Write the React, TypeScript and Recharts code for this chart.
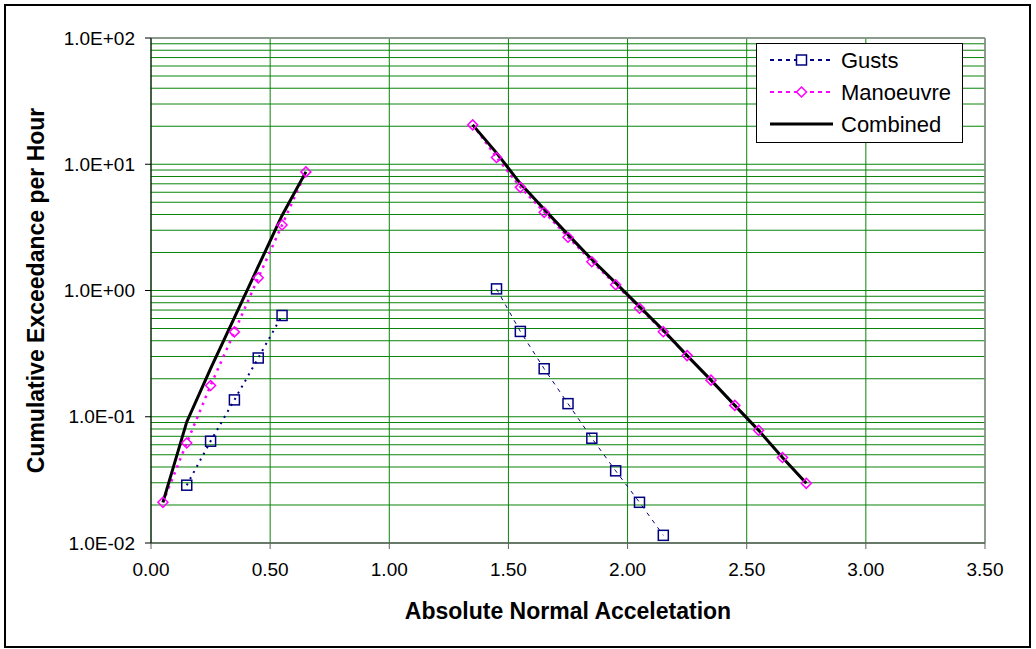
import React from 'react';
import { LineChart, Line, XAxis, YAxis, CartesianGrid, ReferenceLine } from 'recharts';

const FONT = "'Liberation Sans', Arial, Helvetica, sans-serif";

// X tick values and Y tick values
const xTicks = [0, 0.5, 1, 1.5, 2, 2.5, 3, 3.5];
const yTicks = [0.01, 0.1, 1, 10, 100];
const yGridValues = [
  0.01, 0.02, 0.03, 0.04, 0.05, 0.06, 0.07, 0.08, 0.09,
  0.1, 0.2, 0.3, 0.4, 0.5, 0.6, 0.7, 0.8, 0.9,
  1, 2, 3, 4, 5, 6, 7, 8, 9,
  10, 20, 30, 40, 50, 60, 70, 80, 90, 100,
];

// Gusts
const gustsLeftX = [0.15, 0.25, 0.35, 0.45, 0.55];
const gustsLeftY = [0.0287, 0.064, 0.136, 0.292, 0.634];
const gustsRightX = [1.45, 1.55, 1.65, 1.75, 1.85, 1.95, 2.05, 2.15];
const gustsRightY = [1.03, 0.474, 0.24, 0.127, 0.0676, 0.0373, 0.021, 0.0115];

// Manoeuvre
const manLeftX = [0.05, 0.15, 0.25, 0.35, 0.45, 0.55, 0.65];
const manLeftY = [0.021, 0.062, 0.177, 0.47, 1.26, 3.3, 8.7];
const manRightX = [1.35, 1.45, 1.55, 1.65, 1.75, 1.85, 1.95, 2.05, 2.15, 2.25, 2.35, 2.45, 2.55, 2.65, 2.75];
const manRightY = [20.5, 11.3, 6.56, 4.16, 2.64, 1.69, 1.11, 0.724, 0.472, 0.305, 0.195, 0.123, 0.078, 0.0476, 0.0297];

// Combined
const combLeftX = [0.05, 0.15, 0.25, 0.35, 0.45, 0.55, 0.65];
const combLeftY = [0.021, 0.091, 0.241, 0.61, 1.55, 3.93, 8.7];
const combRightX = [1.35, 1.45, 1.55, 1.65, 1.75, 1.85, 1.95, 2.05, 2.15, 2.25, 2.35, 2.45, 2.55, 2.65, 2.75];
const combRightY = [20.5, 12.3, 7.03, 4.4, 2.77, 1.76, 1.15, 0.745, 0.484, 0.305, 0.195, 0.123, 0.078, 0.0476, 0.0297];

const zip = (xs: number[], ys: number[]) => xs.map((x, i) => ({ x, y: ys[i] }));

const GUST = '#000080';
const MAN = '#FF00FF';

const fmtExp = (v: number) => {
  const e = Math.round(Math.log10(v));
  return `1.0E${e < 0 ? '-' : '+'}${String(Math.abs(e)).padStart(2, '0')}`;
};

const SquareDot = (props: any) => {
  const { cx, cy, index } = props;
  if (cx == null || cy == null) return <g key={`s${index}`} />;
  return <rect key={`s${index}-${cx}`} x={cx - 5} y={cy - 5} width={10} height={10} fill="none" stroke={GUST} strokeWidth={1.5} />;
};

const DiamondDot = (props: any) => {
  const { cx, cy, index } = props;
  if (cx == null || cy == null) return <g key={`d${index}`} />;
  return (
    <polygon
      key={`d${index}-${cx}`}
      points={`${cx},${cy - 5} ${cx + 5},${cy} ${cx},${cy + 5} ${cx - 5},${cy}`}
      fill="none"
      stroke={MAN}
      strokeWidth={1.5}
    />
  );
};

const LegendBox = () => (
  <div
    style={{
      position: 'absolute',
      left: 756,
      top: 43,
      width: 207,
      height: 100,
      border: '1px solid #000',
      boxSizing: 'border-box',
      background: '#fff',
    }}
  >
    <svg width={207} height={100} style={{ position: 'absolute', left: -1, top: -1 }}>
      <line x1={14} x2={77} y1={17} y2={17} stroke={GUST} strokeWidth={2} strokeDasharray="4 4" />
      <rect x={40.5} y={12} width={10} height={10} fill="#fff" stroke={GUST} strokeWidth={1.5} />
      <line x1={14} x2={77} y1={49} y2={49} stroke={MAN} strokeWidth={2} strokeDasharray="4 4" />
      <polygon points="45.5,44 50.5,49 45.5,54 40.5,49" fill="#fff" stroke={MAN} strokeWidth={1.5} />
      <line x1={14} x2={77} y1={81} y2={81} stroke="#000" strokeWidth={3} />
      <text x={85} y={17} dy="0.355em" fontSize={22} fontFamily={FONT} fill="#000">Gusts</text>
      <text x={85} y={49} dy="0.355em" fontSize={22} fontFamily={FONT} fill="#000">Manoeuvre</text>
      <text x={85} y={81} dy="0.355em" fontSize={22} fontFamily={FONT} fill="#000">Combined</text>
    </svg>
  </div>
);

export default function App() {
  return (
    <div style={{ position: 'absolute', left: 0, top: 0, width: 1036, height: 649, background: '#fff', fontFamily: FONT }}>
      <LineChart
        width={1036}
        height={649}
        margin={{ top: 38, right: 51, bottom: 0, left: 0 }}
        style={{ position: 'absolute', left: 0, top: 0 }}
      >
        <CartesianGrid
          stroke="#0a840a"
          horizontalValues={yGridValues}
          verticalValues={xTicks}
        />
        <XAxis
          type="number"
          dataKey="x"
          domain={[0, 3.5]}
          ticks={xTicks}
          interval={0}
          allowDataOverflow
          height={106}
          tickFormatter={(v: number) => v.toFixed(2)}
          tick={{ fill: '#000', fontSize: 19, fontFamily: FONT }}
          tickSize={6}
          tickMargin={14}
          axisLine={{ stroke: '#606060', strokeWidth: 1.5 }}
          tickLine={{ stroke: '#606060' }}
          label={{
            content: (p: any) => {
              const vb = p.viewBox || { x: 151, width: 834 };
              return (
                <text x={vb.x + vb.width / 2} y={619} textAnchor="middle" fontSize={23} fontWeight="bold" fontFamily={FONT} fill="#000">
                  Absolute Normal Acceletation
                </text>
              );
            },
          }}
        />
        <YAxis
          type="number"
          scale="log"
          domain={[0.01, 100]}
          ticks={yTicks}
          interval={0}
          allowDataOverflow
          width={151}
          tickFormatter={fmtExp}
          tick={{ fill: '#000', fontSize: 19, fontFamily: FONT }}
          tickSize={6}
          tickMargin={10}
          axisLine={{ stroke: '#000' }}
          tickLine={{ stroke: '#000' }}
          label={{
            content: (p: any) => {
              const vb = p.viewBox || { y: 38, height: 505 };
              const cy = vb.y + vb.height / 2;
              return (
                <text x={43.5} y={cy} transform={`rotate(-90 43.5 ${cy})`} textAnchor="middle" fontSize={23} fontWeight="bold" fontFamily={FONT} fill="#000">
                  Cumulative Exceedance per Hour
                </text>
              );
            },
          }}
        />
        <ReferenceLine y={100} stroke="#909090" strokeWidth={1.5} />
        <ReferenceLine x={3.5} stroke="#909090" strokeWidth={1.5} />

        <Line data={zip(gustsLeftX, gustsLeftY)} dataKey="y" stroke={GUST} strokeWidth={2} strokeDasharray="2 5" dot={SquareDot} isAnimationActive={false} legendType="none" />
        <Line data={zip(gustsRightX, gustsRightY)} dataKey="y" stroke={GUST} strokeWidth={1} strokeDasharray="4 5" dot={SquareDot} isAnimationActive={false} legendType="none" />
        <Line data={zip(manLeftX, manLeftY)} dataKey="y" stroke={MAN} strokeWidth={2.5} strokeDasharray="2.5 5" dot={DiamondDot} isAnimationActive={false} legendType="none" />
        <Line data={zip(manRightX, manRightY)} dataKey="y" stroke={MAN} strokeWidth={2} strokeDasharray="3 4" dot={DiamondDot} isAnimationActive={false} legendType="none" />
        <Line data={zip(combLeftX, combLeftY)} dataKey="y" stroke="#000" strokeWidth={3} dot={false} isAnimationActive={false} legendType="none" />
        <Line data={zip(combRightX, combRightY)} dataKey="y" stroke="#000" strokeWidth={3} dot={false} isAnimationActive={false} legendType="none" />
      </LineChart>
      <LegendBox />
      <div
        style={{
          position: 'absolute',
          left: 4,
          top: 4,
          width: 1027,
          height: 644,
          border: '2px solid #000',
          boxSizing: 'border-box',
          pointerEvents: 'none',
        }}
      />
    </div>
  );
}
